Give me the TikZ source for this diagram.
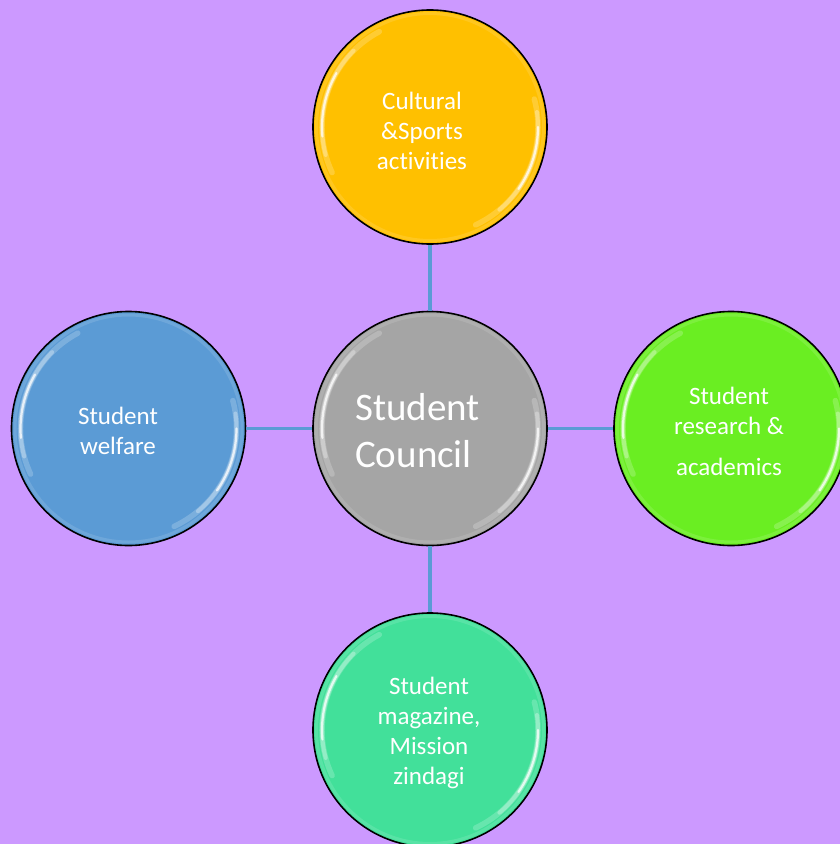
\documentclass[tikz,border=0pt]{standalone}
\usepackage{fontspec}
\setmainfont{Carlito}[Ligatures=NoCommon]
\usetikzlibrary{calc}
\definecolor{bgc}{HTML}{CC99FF}
\definecolor{linec}{HTML}{5B9BD5}
\definecolor{orangec}{HTML}{FFC000}
\definecolor{grayc}{HTML}{A5A5A5}
\definecolor{greenc}{HTML}{6AEE22}
\definecolor{bluec}{HTML}{5B9BD5}
\definecolor{tealc}{HTML}{42E09A}
\tikzset{
  ball/.style={circle, draw=black, line width=1.6pt, minimum size=234pt, inner sep=0pt, fill=#1},
  conn/.style={draw=linec, line width=3.4pt},
  smalltxt/.style={text=white, align=center, inner sep=0pt, font=\fontsize{25}{30}\selectfont},
  bigtxt/.style={text=white, align=left, inner sep=0pt, font=\fontsize{39}{47}\selectfont},
}
\newcommand{\gloss}[3]{%
  \foreach \a/\b/\op/\w in {-118/-205/0.2/5.5,-135/-195/0.3/4,-150/-185/0.75/2.2,65/-15/0.2/5.5,50/-8/0.3/4,35/0/0.75/2.2}{
    \draw[white, line width=\w pt, opacity=\op, line cap=round]
      ($(#1,#2)+(\a:#3)$) arc[start angle=\a, end angle=\b, radius=#3];
  }
  \draw[white, line width=3pt, opacity=0.12] (#1,#2) circle[radius=#3+5.5];
}
\begin{document}
\begin{tikzpicture}[x=1pt,y=-1pt]
\useasboundingbox (0,0) rectangle (840,844);
\fill[bgc] (0,0) rectangle (840,844);
\clip (0,0) rectangle (840,844);
\node[ball=grayc]   (c) at (430,428.5) {};
\node[ball=orangec] (t) at (430,127) {};
\node[ball=bluec]   (l) at (128.5,428.5) {};
\node[ball=greenc]  (r) at (731,428.5) {};
\node[ball=tealc]   (b) at (430,730) {};
\draw[conn] (c.north) -- (t.south);
\draw[conn] (c.west) -- (l.east);
\draw[conn] (c.east) -- (r.west);
\draw[conn] (c.south) -- (b.north);
\gloss{430}{428.5}{108}
\gloss{430}{127}{108}
\gloss{128.5}{428.5}{108}
\gloss{731}{428.5}{108}
\gloss{430}{730}{108}
\node[smalltxt] (tt) at (422,131) {Cultural\\\&Sports\\activities};
\node[smalltxt] (lt) at (118,431) {Student\\welfare};
\node[smalltxt] (rt) at (729,431) {Student\\research \&\\[11pt]academics};
\node[smalltxt] (bt) at (429,733) {Student\\magazine,\\Mission\\zindagi};
\node[bigtxt, anchor=west] (ct) at (355,431) {Student\\Council};
\end{tikzpicture}
\end{document}
